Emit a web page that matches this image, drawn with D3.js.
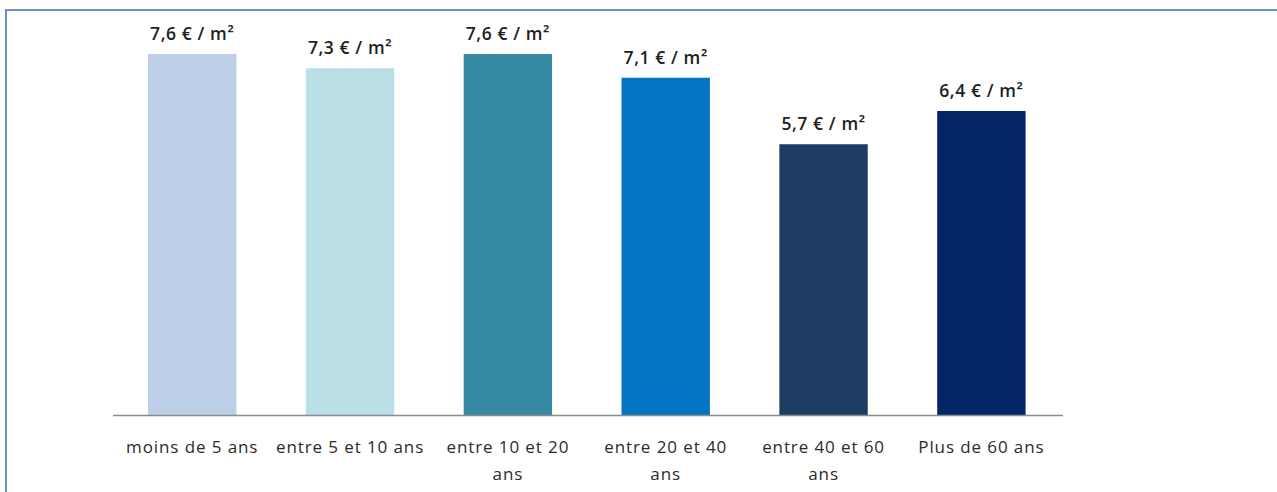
<!DOCTYPE html>
<html><head><meta charset="utf-8">
<script src="https://cdn.jsdelivr.net/npm/d3@7/dist/d3.min.js"></script>
<style>
html,body{margin:0;padding:0;background:#fff;}
svg{display:block;}
</style></head>
<body>
<svg id="chart" width="1277" height="492"></svg>
<script>
const categories = ["moins de 5 ans", "entre 5 et 10 ans", "entre 10 et 20\nans", "entre 20 et 40\nans", "entre 40 et 60\nans", "Plus de 60 ans"];
const values = [7.6, 7.3, 7.6, 7.1, 5.7, 6.4];
const colors = ["#bccfe7", "#badfe7", "#368ba2", "#0474c4", "#1c3c64", "#022566"];

const svg = d3.select("#chart");
// frame
svg.append("rect").attr("x", 6).attr("y", 10).attr("width", 1290).attr("height", 500)
  .attr("fill", "none").attr("stroke", "#6b90d2").attr("stroke-width", 2);

const x0 = 113.3, x1 = 1060.3, yBase = 415;
const x = d3.scaleBand().domain(categories).range([x0, x1]).paddingInner(0.44).paddingOuter(0.22);
const y = d3.scaleLinear().domain([0, 8]).range([yBase, yBase - 8 * 47.5]);

svg.selectAll("rect.bar").data(values).join("rect").attr("class", "bar")
  .attr("x", (d, i) => x(categories[i]))
  .attr("y", d => y(d))
  .attr("width", x.bandwidth())
  .attr("height", d => y(0) - y(d))
  .attr("fill", (d, i) => colors[i]);

// axis
const axis = d3.axisBottom(x).tickSize(0).tickPadding(0).tickFormat("");
const ag = svg.append("g").attr("transform", `translate(0,${yBase})`).call(axis);
ag.select(".domain").attr("d", "M113,0.5H1063").attr("stroke", "#8c8c8c").attr("stroke-width", 1.5);

ag.selectAll(".tick").each(function(d) {
  const t = d3.select(this).append("text").attr("fill", "#2b2b2b")
    .attr("font-family", "'Open Sans', sans-serif").attr("font-size", 17)
    .attr("letter-spacing", 0.9)
    .attr("text-anchor", "middle");
  d.split("\n").forEach((line, k) => {
    t.append("tspan").attr("x", 0).attr("y", 38 + k * 27).text(line);
  });
});

svg.selectAll("text.val").data(values).join("text").attr("class", "val")
  .attr("x", (d, i) => x(categories[i]) + x.bandwidth() / 2)
  .attr("y", d => y(d) - 14)
  .attr("text-anchor", "middle")
  .attr("font-family", "'Open Sans', sans-serif").attr("font-size", 17.5).attr("font-weight", 600)
  .attr("letter-spacing", 0.6)
  .attr("fill", "#1e1e1e")
  .text(d => d3.format(".1f")(d).replace(".", ",") + " € / m²");
</script>
</body></html>
